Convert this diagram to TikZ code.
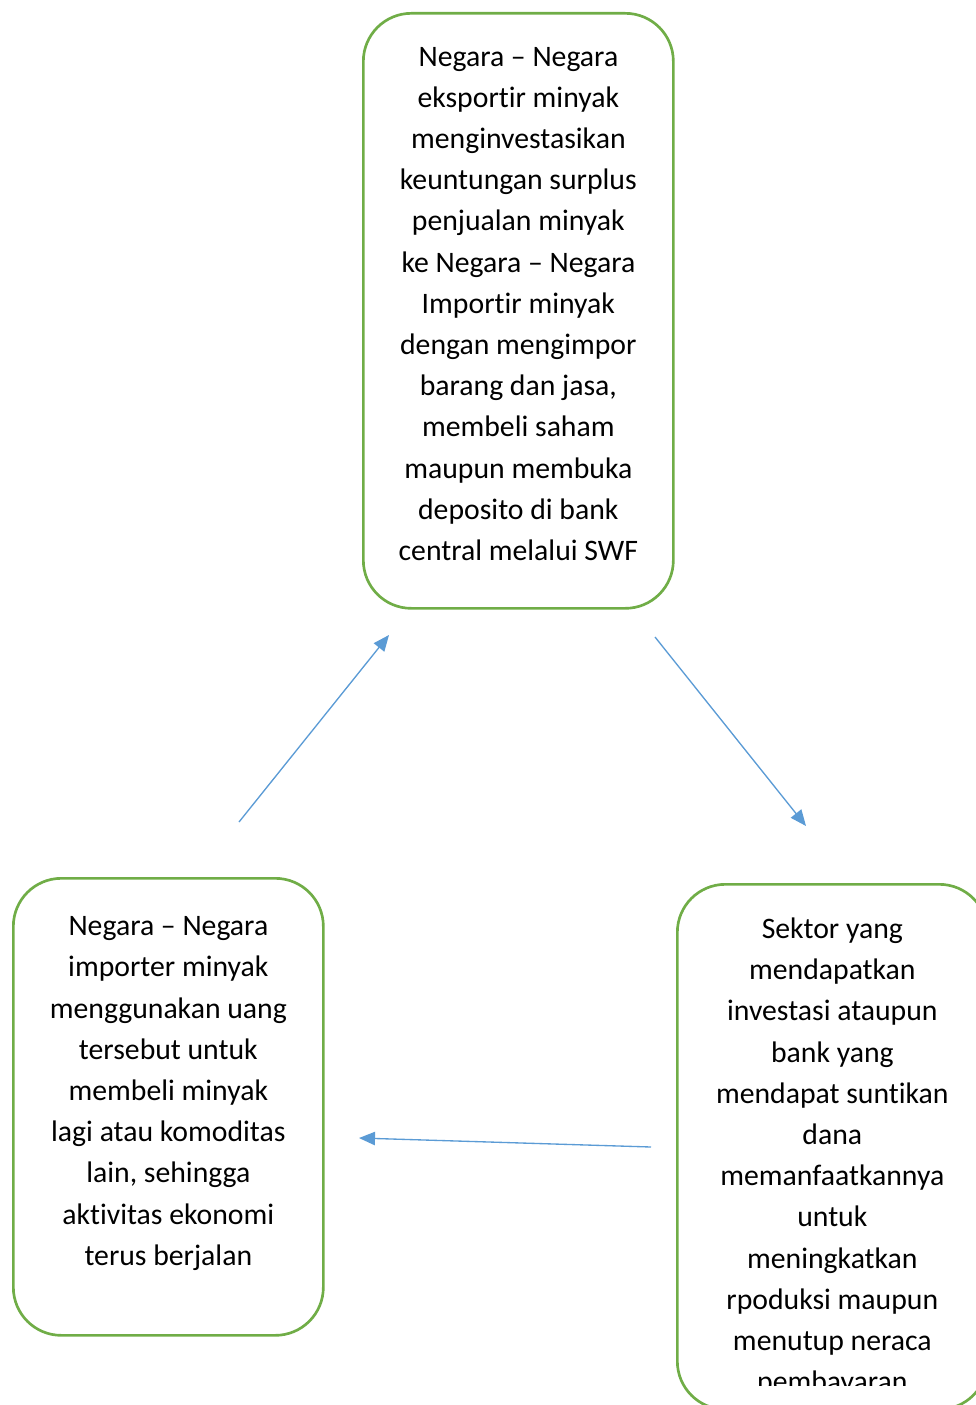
\documentclass[tikz,border=0pt]{standalone}
\usepackage{fontspec}
\setmainfont{Carlito}[Ligatures=NoCommon]
\usetikzlibrary{
  positioning,
  arrows.meta
}
\definecolor{boxgreen}{HTML}{70AD47}
\definecolor{arrowblue}{HTML}{5B9BD5}

\begin{document}
\begin{tikzpicture}[
  x=0.75pt, y=-0.75pt,
  my_box/.style={
    draw=boxgreen,
    line width=2pt,
    rounded corners=36pt,
    minimum width=232.5pt,
    inner sep=0pt,
    anchor=north west,
  },
  my_text/.style={
    align=center,
    inner sep=0pt,
    anchor=north,
    font=\fontsize{22.3}{30.9}\selectfont,
  },
  my_arrow/.style={
    draw=arrowblue,
    line width=1pt,
    -{Triangle[length=12pt,width=10pt]},
  }
  ]

  \path[use as bounding box] (0,0) rectangle (975,1405);

  \node[my_box, minimum height=446.25pt] (exporter) at (362,12) {};
  \node[my_text, below=26pt of exporter.north] (exporter_text) {Negara – Negara\\eksportir minyak\\menginvestasikan\\keuntungan surplus\\penjualan minyak\\ke Negara – Negara\\Importir minyak\\dengan mengimpor\\barang dan jasa,\\membeli saham\\maupun membuka\\deposito di bank\\central melalui SWF};

  \node[my_box, minimum height=342.75pt] (importer) at (12,877) {};
  \node[my_text, below=29.5pt of importer.north] (importer_text) {Negara – Negara\\importer minyak\\menggunakan uang\\tersebut untuk\\membeli minyak\\lagi atau komoditas\\lain, sehingga\\aktivitas ekonomi\\terus berjalan};

  \node[my_box, minimum height=393.75pt] (sector) at (676,883) {};
  \begin{scope}
    \clip (676,883) rectangle (986,1385);
    \node[my_text, below=26pt of sector.north] (sector_text) {Sektor yang\\mendapatkan\\investasi ataupun\\bank yang\\mendapat suntikan\\dana\\memanfaatkannya\\untuk\\meningkatkan\\rpoduksi maupun\\menutup neraca\\pembayaran};
  \end{scope}

  % arrow ends
  \coordinate (importer_out) at (239,822);
  \coordinate (exporter_in) at (389,635);
  \coordinate (exporter_out) at (655,637);
  \coordinate (sector_in) at (806,826);
  \coordinate (sector_out) at (651,1147);
  \coordinate (importer_in) at (359,1138);

  \draw[my_arrow] (importer_out) -- (exporter_in);
  \draw[my_arrow] (exporter_out) -- (sector_in);
  \draw[my_arrow] (sector_out) -- (importer_in);

\end{tikzpicture}
\end{document}
